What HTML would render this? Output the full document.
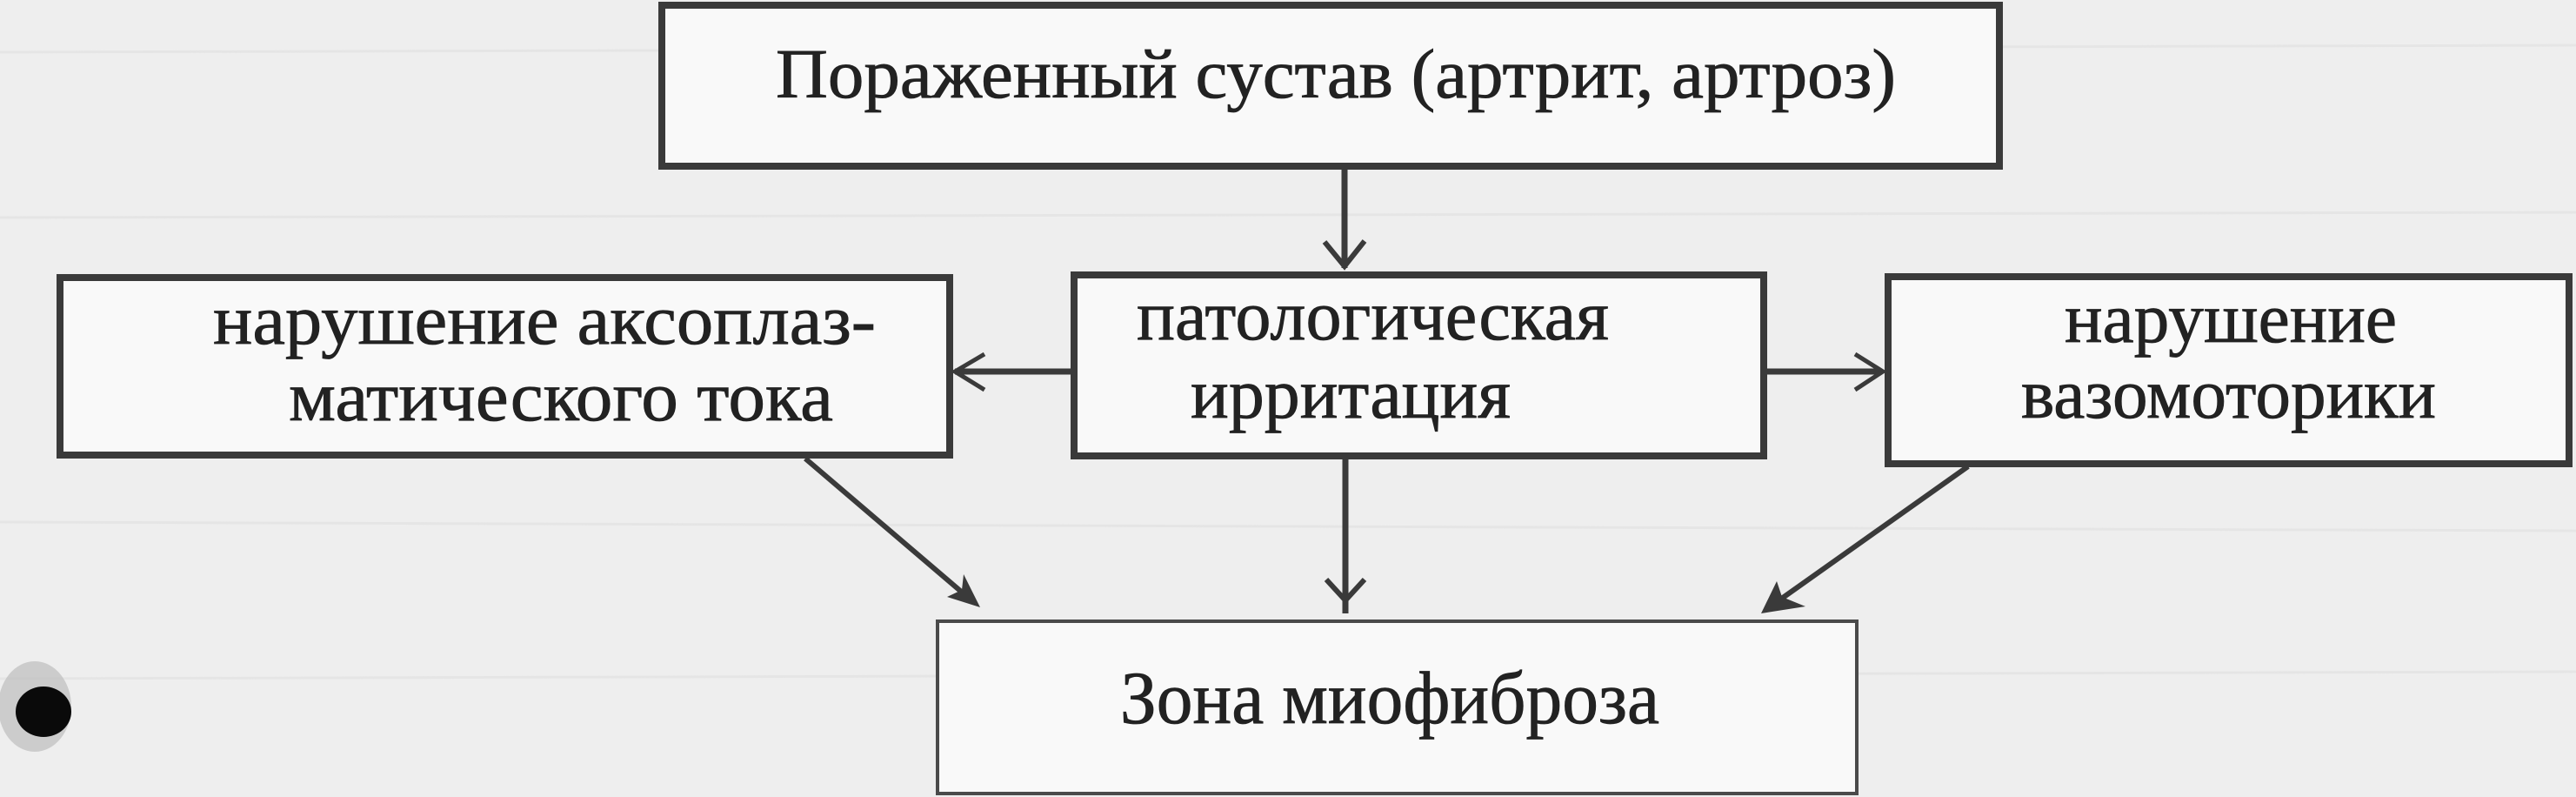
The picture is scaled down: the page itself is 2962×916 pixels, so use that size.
<!DOCTYPE html>
<html>
<head>
<meta charset="utf-8">
<style>
  html, body { margin: 0; padding: 0; background: #eeeeee; }
  body { width: 2962px; height: 916px; overflow: hidden; }
  svg { display: block; }
  text { font-family: "Liberation Serif", "Noto Serif CJK SC", serif; fill: #222222; stroke: #222222; stroke-width: 0.8; }
</style>
</head>
<body>
<svg width="2962" height="916" viewBox="0 0 2962 916" xmlns="http://www.w3.org/2000/svg">
  <rect x="0" y="0" width="2962" height="916" fill="#eeeeee"/>
  <!-- faint paper streaks -->
  <g stroke="#e4e4e4" stroke-width="3" opacity="0.8">
    <line x1="0" y1="60" x2="2962" y2="52"/>
    <line x1="0" y1="250" x2="2962" y2="244"/>
    <line x1="0" y1="600" x2="2962" y2="610"/>
    <line x1="0" y1="780" x2="2962" y2="772"/>
  </g>

  <!-- blot at left -->
  <ellipse cx="40" cy="812" rx="42" ry="52" fill="#bdbdbd" opacity="0.7"/>
  <ellipse cx="50" cy="818" rx="32" ry="29" fill="#0a0a0a"/>

  <!-- boxes -->
  <g fill="#f9f9f9" stroke="#3a3a3a" stroke-width="8">
    <rect x="761" y="6" width="1538" height="185"/>
    <rect x="69" y="319" width="1023" height="204"/>
    <rect x="1235" y="316" width="793" height="208"/>
    <rect x="2171" y="318" width="783" height="215"/>
  </g>
  <rect x="1078" y="714" width="1057" height="198" fill="#f9f9f9" stroke="#4a4a4a" stroke-width="4"/>

  <!-- connectors -->
  <g stroke="#3a3a3a" fill="none" stroke-linecap="butt">
    <line x1="1546" y1="195" x2="1546" y2="308" stroke-width="7"/>
    <polyline points="1523,278 1546,306 1569,277" stroke-width="6"/>
    <line x1="1231" y1="427" x2="1098" y2="427" stroke-width="7"/>
    <polyline points="1132,407 1098,427 1132,448" stroke-width="5"/>
    <line x1="2032" y1="427" x2="2164" y2="427" stroke-width="7"/>
    <polyline points="2133,407 2165,427 2133,448" stroke-width="5"/>
    <line x1="1547" y1="528" x2="1547" y2="705" stroke-width="7"/>
    <polyline points="1525,666 1547,690 1569,666" stroke-width="6"/>
    <line x1="926" y1="527" x2="1110" y2="684" stroke-width="6"/>
    <line x1="2263" y1="536" x2="2040" y2="694" stroke-width="6"/>
  </g>
  <polygon points="1127,698 1089,686 1106,678 1108,660" fill="#3a3a3a"/>
  <polygon points="2025,705 2043,668 2049,686 2076,697" fill="#3a3a3a"/>

  <!-- labels -->
  <text x="892" y="112" font-size="80" textLength="1288" lengthAdjust="spacingAndGlyphs">Пораженный сустав (артрит, артроз)</text>

  <text x="245" y="395" font-size="82" textLength="762" lengthAdjust="spacingAndGlyphs">нарушение аксоплаз-</text>
  <text x="332" y="483" font-size="82" textLength="626" lengthAdjust="spacingAndGlyphs">матического тока</text>

  <text x="1307" y="390" font-size="82" textLength="543" lengthAdjust="spacingAndGlyphs">патологическая</text>
  <text x="1369" y="480" font-size="82" textLength="368" lengthAdjust="spacingAndGlyphs">ирритация</text>

  <text x="2374" y="393" font-size="82" textLength="382" lengthAdjust="spacingAndGlyphs">нарушение</text>
  <text x="2324" y="480" font-size="82" textLength="477" lengthAdjust="spacingAndGlyphs">вазомоторики</text>

  <text x="1288" y="831" font-size="86" textLength="620" lengthAdjust="spacingAndGlyphs">Зона миофиброза</text>
</svg>
</body>
</html>
